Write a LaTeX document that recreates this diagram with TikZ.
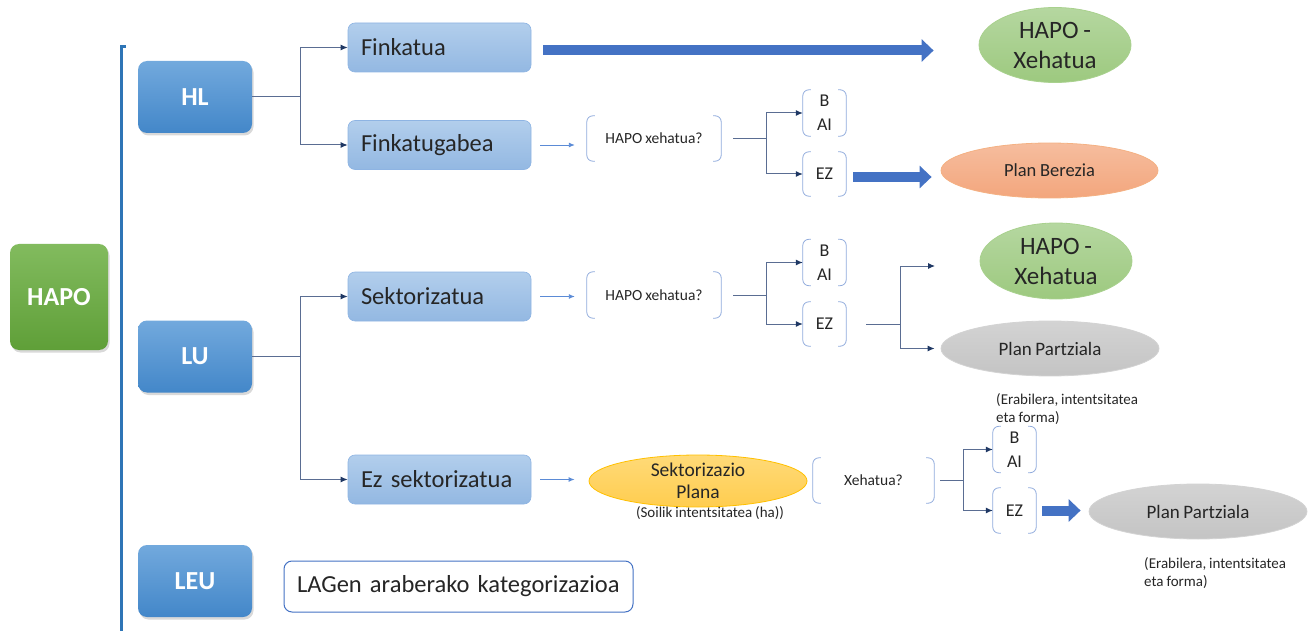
\documentclass[tikz,border=0pt]{standalone}
\usepackage{fontspec}
\setmainfont{Carlito}[WordSpace=0.85]
\usetikzlibrary{arrows.meta,shapes.geometric,shadows,calc}
\definecolor{bbtop}{HTML}{72A9DD}
\definecolor{bbbot}{HTML}{4387C9}
\definecolor{lbtop}{HTML}{B2CEEC}
\definecolor{lbbot}{HTML}{93B8E2}
\definecolor{lbline}{HTML}{8EB4E3}
\definecolor{gtop}{HTML}{82BB5E}
\definecolor{gbot}{HTML}{5F9F38}
\definecolor{eltop}{HTML}{B5D7A0}
\definecolor{elbot}{HTML}{9DC97F}
\definecolor{elline}{HTML}{A9D18E}
\definecolor{ortop}{HTML}{F6BD9E}
\definecolor{orbot}{HTML}{F3A67D}
\definecolor{orline}{HTML}{F4B183}
\definecolor{grtop}{HTML}{D3D3D3}
\definecolor{grbot}{HTML}{C4C4C4}
\definecolor{yltop}{HTML}{FFDA78}
\definecolor{ylbot}{HTML}{FFCD4F}
\definecolor{ylline}{HTML}{FFC000}
\definecolor{txt}{HTML}{262626}
\definecolor{arrblue}{HTML}{4472C4}
\definecolor{arrblue2}{HTML}{5B8BD6}
\definecolor{treecol}{HTML}{5A6D92}
\definecolor{navy}{HTML}{1F3864}
\definecolor{brkcol}{HTML}{8FAADC}
\definecolor{vline}{HTML}{2E75B6}
\newcommand\mybrk[1]{%
  \draw[brkline] ([xshift=8pt]#1.north west) -- (#1.north west) -- (#1.south west) -- ([xshift=8pt]#1.south west);
  \draw[brkline] ([xshift=-8pt]#1.north east) -- (#1.north east) -- (#1.south east) -- ([xshift=-8pt]#1.south east);}
\begin{document}
\begin{tikzpicture}[x=1pt,y=-1pt,
  bigbox/.style={rounded corners=9pt, draw=none, top color=bbtop, bottom color=bbbot, text=white,
    font=\bfseries\fontsize{26}{30}\selectfont, minimum width=114pt, minimum height=72pt, inner sep=0pt,
    drop shadow={opacity=0.3, shadow xshift=1.5pt, shadow yshift=-2.5pt}},
  catbox/.style={rounded corners=7pt, draw=lbline, line width=0.6pt, top color=lbtop, bottom color=lbbot,
    text=txt, font=\fontsize{24.5}{29}\selectfont, text width=157pt, inner xsep=13pt, inner ysep=0pt,
    align=left, minimum height=49pt},
  brkbox/.style={draw=none, inner sep=0pt, align=center, text=txt},
  brkline/.style={draw=brkcol, line width=0.8pt, rounded corners=6pt},
  ell/.style={ellipse, inner sep=0pt, align=center, text=txt, line width=0.8pt},
  fat/.style={draw=arrblue, line width=10pt, -{Triangle[length=12pt,width=22pt]}},
  bluearr/.style={draw=arrblue2, line width=0.9pt, -{Latex[length=6pt,width=5pt]}},
  tree/.style={draw=treecol, line width=1pt},
  treearr/.style={tree, -{Latex[length=7pt,width=6pt,color=navy]}},
  note/.style={align=left, text=txt, font=\fontsize{15}{18}\selectfont, inner sep=0pt}
]
\useasboundingbox (0,0) rectangle (1312,631);

% left spine
\draw[draw=vline, line width=3pt] (126,47) -- (121,47) -- (121,631);

% main boxes
\node[bigbox, minimum width=98pt, minimum height=106pt, top color=gtop, bottom color=gbot] (HAPO) at (59,297) {HAPO};
\node[bigbox] (HL) at (195,97) {HL};
\node[bigbox] (LU) at (195,356.5) {LU};
\node[bigbox] (LEU) at (195,581) {LEU};

% category boxes
\node[catbox] (Fk) at (439.5,47.5) {Finkatua};
\node[catbox] (Fg) at (439.5,145) {Finkatugabea};
\node[catbox] (Sk) at (439.5,296.5) {Sektorizatua};
\node[catbox] (Ez) at (439.5,479.5) {Ez sektorizatua};
\node[rounded corners=8pt, draw=arrblue, line width=1pt, fill=white, text=txt,
  font=\fontsize{24.5}{29}\selectfont, text width=323pt, inner xsep=13pt, align=left,
  minimum height=51pt, inner ysep=0pt] (LAG) at (458.5,586.5) {LAGen araberako kategorizazioa};

% question boxes
\node[brkbox, minimum width=134pt, minimum height=45pt, font=\fontsize{15.5}{18}\selectfont] (Q1) at (654,138.5) {HAPO xehatua?};
\node[brkbox, minimum width=134pt, minimum height=46pt, font=\fontsize{15.5}{18}\selectfont] (Q2) at (654,295) {HAPO xehatua?};
\node[brkbox, minimum width=121pt, minimum height=45pt, font=\fontsize{15.5}{18}\selectfont] (Q3) at (873.5,480.5) {Xehatua?};
\mybrk{Q1}\mybrk{Q2}\mybrk{Q3}

% B/AI and EZ boxes
\node[brkbox, minimum width=43pt, minimum height=46pt, font=\fontsize{18}{24}\selectfont] (B1) at (824.5,113) {B\\AI};
\node[brkbox, minimum width=43pt, minimum height=44pt, font=\fontsize{18}{24}\selectfont] (E1) at (824.5,174) {EZ};
\node[brkbox, minimum width=43pt, minimum height=46pt, font=\fontsize{18}{24}\selectfont] (B2) at (824.5,262.5) {B\\AI};
\node[brkbox, minimum width=43pt, minimum height=44pt, font=\fontsize{18}{24}\selectfont] (E2) at (824.5,324) {EZ};
\node[brkbox, minimum width=43pt, minimum height=46pt, font=\fontsize{18}{24}\selectfont] (B3) at (1014.5,449.5) {B\\AI};
\node[brkbox, minimum width=43pt, minimum height=45pt, font=\fontsize{18}{24}\selectfont] (E3) at (1014.5,510.5) {EZ};
\mybrk{B1}\mybrk{E1}\mybrk{B2}\mybrk{E2}\mybrk{B3}\mybrk{E3}

% ellipses
\node[ell, draw=elline, top color=eltop, bottom color=elbot, minimum width=152pt, minimum height=75pt,
  font=\fontsize{25}{30}\selectfont] (X1) at (1055,45) {HAPO -\\Xehatua};
\node[ell, draw=orline, top color=ortop, bottom color=orbot, minimum width=217pt, minimum height=55pt,
  font=\fontsize{18.5}{22}\selectfont] (PB) at (1049.5,170.5) {Plan Berezia};
\node[ell, draw=elline, top color=eltop, bottom color=elbot, minimum width=152pt, minimum height=76pt,
  font=\fontsize{25}{30}\selectfont] (X2) at (1056,261) {HAPO -\\Xehatua};
\node[ell, draw=grtop, top color=grtop, bottom color=grbot, minimum width=218pt, minimum height=55pt,
  font=\fontsize{19}{22}\selectfont] (PP1) at (1050,348.5) {Plan Partziala};
\node[ell, draw=grtop, top color=grtop, bottom color=grbot, minimum width=218pt, minimum height=55pt,
  font=\fontsize{19}{22}\selectfont] (PP2) at (1198,511.5) {Plan Partziala};
\node[ell, draw=ylline, top color=yltop, bottom color=ylbot, minimum width=218pt, minimum height=52pt,
  font=\fontsize{19.5}{22}\selectfont] (SP) at (698,481) {Sektorizazio\\Plana};

% notes
\node[note, anchor=north west] (N1) at (996,393) {(Erabilera, intentsitatea\\eta forma)};
\node[note, anchor=north west] (N2) at (1144,557) {(Erabilera, intentsitatea\\eta forma)};
\node[note, align=center] (N3) at (710,513) {(Soilik intentsitatea (ha))};

% tree connectors
\draw[tree] (HL.east) -- ++(48,0) coordinate (hlj);
\draw[treearr] (hlj) |- (Fk.west);
\draw[treearr] (hlj) |- (Fg.west);
\draw[tree] (LU.east) -- ++(48,0) coordinate (luj);
\draw[treearr] (luj) |- (Sk.west);
\draw[treearr] (luj) |- (Ez.west);

\draw[tree] ([xshift=12pt]Q1.east) -- ++(33,0) coordinate (q1j);
\draw[treearr] (q1j) |- (B1.west);
\draw[treearr] (q1j) |- (E1.west);
\draw[tree] ([xshift=12pt]Q2.east) -- ++(33,0) coordinate (q2j);
\draw[treearr] (q2j) |- (B2.west);
\draw[treearr] (q2j) |- (E2.west);
\draw[tree] ([xshift=6pt]Q3.east) -- ++(23,0) coordinate (q3j);
\draw[treearr] (q3j) |- (B3.west);
\draw[treearr] (q3j) |- (E3.west);

\coordinate (x2in) at (935,266);
\draw[tree] ([xshift=20pt]E2.east) -- ++(34,0) coordinate (e2j);
\draw[treearr] (e2j) |- (x2in);
\draw[treearr] (e2j) |- ([xshift=-6pt]PP1.west);

% thin blue arrows
\draw[bluearr, shorten <=9pt, shorten >=12pt] (Fg.east) -- (Fg.east -| Q1.west);
\draw[bluearr, shorten <=9pt, shorten >=12pt] (Sk.east) -- (Sk.east -| Q2.west);
\draw[bluearr, shorten <=9pt, shorten >=14pt] (Ez.east) -- (Ez.east -| SP.west);

% fat arrows
\draw[fat, shorten <=12pt, shorten >=45pt] ([yshift=-3pt]Fk.east) -- ([yshift=-3pt]Fk.east -| X1.west);
\draw[fat, shorten <=7pt, shorten >=9pt] ([yshift=-3pt]E1.east) -- ([yshift=-3pt]E1.east -| PB.west);
\draw[fat, shorten <=6pt, shorten >=8pt] (E3.east) -- (E3.east -| PP2.west);
\end{tikzpicture}
\end{document}
